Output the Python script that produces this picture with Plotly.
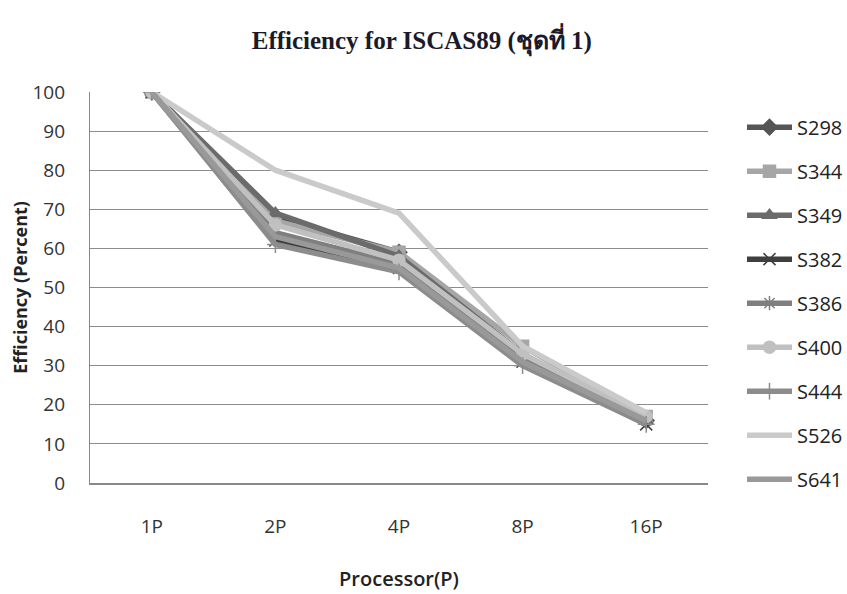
import plotly.graph_objects as go

categories = ["1P", "2P", "4P", "8P", "16P"]
series_names = ["S298", "S344", "S349", "S382", "S386", "S400", "S444", "S526", "S641"]
s298 = [100, 68, 59, 32, 16]
s344 = [100, 67, 59, 35, 17]
s349 = [100, 69, 58, 33, 16]
s382 = [100, 62, 55, 31, 15]
s386 = [100, 64, 56, 32, 16]
s400 = [100, 66, 57, 33, 17]
s444 = [100, 61, 54, 30, 15]
s526 = [100, 80, 69, 35, 18]
s641 = [100, 63, 55, 31, 16]
values = [s298, s344, s349, s382, s386, s400, s444, s526, s641]

colors = ["#555555", "#a6a6a6", "#6b6b6b", "#3f3f3f", "#7f7f7f", "#c0c0c0", "#8c8c8c", "#cacaca", "#999999"]
symbols = ["diamond", "square", "triangle-up", "x-thin", "asterisk", "circle", "cross-thin", None, None]

fig = go.Figure()
for i, (name, vals) in enumerate(zip(series_names, values)):
    sym = symbols[i]
    marker = dict(color=colors[i], size=12,
                  line=dict(color=colors[i], width=1.5))
    if sym is not None:
        marker["symbol"] = sym
    fig.add_trace(go.Scatter(
        x=categories, y=vals, name=name,
        mode="lines+markers" if sym else "lines",
        line=dict(color=colors[i], width=5.5),
        marker=marker,
        legendgroup=name,
    ))

fig.update_layout(
    width=847, height=594,
    margin=dict(l=90, r=139, t=92, b=111, autoexpand=False),
    paper_bgcolor="white", plot_bgcolor="white",
    title=dict(text="<b>Efficiency for ISCAS89 (ชุดที่ 1)</b>",
               font=dict(family="Liberation Serif, Noto Sans", size=25, color="#1a1a2a"),
               x=0.498, xanchor="center", y=0.933, yanchor="middle"),
    xaxis=dict(
        type="category", range=[-0.5, 4.5], showgrid=False, showline=True,
        linecolor="#888888", linewidth=1.5,
        ticks="", ticklabelstandoff=25,
        tickfont=dict(family="Open Sans", size=19, color="#333333"),
        title=dict(text="Processor(P)", font=dict(family="Open Sans", size=20, color="#222222", weight=600), standoff=34),
    ),
    yaxis=dict(
        range=[0, 100], dtick=10, showgrid=True, gridcolor="#8c8c8c", gridwidth=1.2,
        showline=True, linecolor="#888888", linewidth=1.2, zeroline=False,
        ticks="", ticklabelstandoff=20,
        tickfont=dict(family="Open Sans", size=19, color="#333333"),
        title=dict(text="<b>Efficiency (Percent)</b>", font=dict(family="Open Sans", size=18, color="#222222"), standoff=0),
    ),
    legend=dict(
        x=1.055, xanchor="left", y=0.96, yanchor="top",
        font=dict(family="Open Sans", size=20, color="#222222"),
        traceorder="grouped", tracegroupgap=15, itemwidth=45,
        maxheight=580,
    ),
    showlegend=True,
)

fig.write_html("out.html")
